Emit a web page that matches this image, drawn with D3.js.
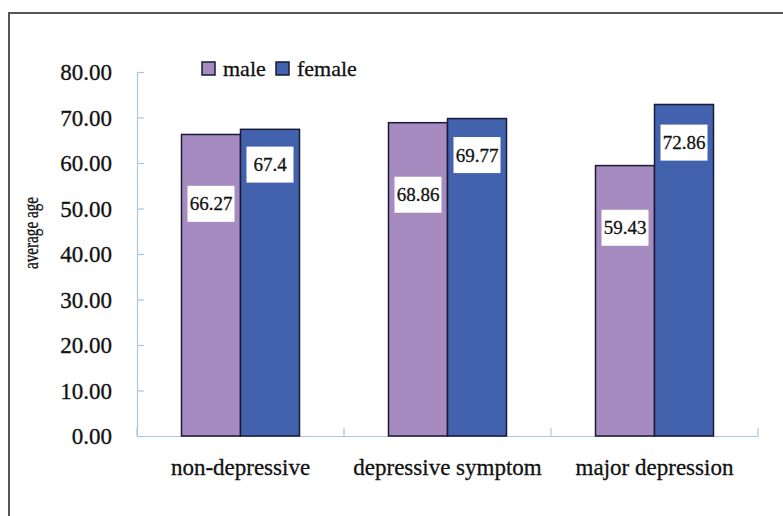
<!DOCTYPE html>
<html>
<head>
<meta charset="utf-8">
<script src="https://cdn.jsdelivr.net/npm/d3@7"></script>
<style>
  html, body { margin: 0; padding: 0; background: #fff; }
  svg { display: block; }
  text { stroke: #111; stroke-width: 0.3px; }
</style>
</head>
<body>
<svg id="chart" width="783" height="516"></svg>
<script>
const categories = ["non-depressive", "depressive symptom", "major depression"];
const seriesNames = ["male", "female"];
const maleValues = [66.27, 68.86, 59.43];
const femaleValues = [67.4, 69.77, 72.86];
const valueLabels = [["66.27", "68.86", "59.43"], ["67.4", "69.77", "72.86"]];
const yTicks = [0, 10, 20, 30, 40, 50, 60, 70, 80];
const yTitle = "average age";

const colors = ["#a68bc0", "#4262ad"];
const series = [maleValues, femaleValues];
const labelFrac = [0.77, 0.885];

const svg = d3.select("#chart");
const font = "'Liberation Serif', 'Times New Roman', serif";

// outer frame
svg.append("rect")
  .attr("x", 9).attr("y", 13).attr("width", 800).attr("height", 540)
  .attr("fill", "none").attr("stroke", "#555").attr("stroke-width", 2);

const plot = { left: 137, right: 758, top: 72, bottom: 436 };

const x0 = d3.scaleBand().domain(categories).range([plot.left, plot.right]).paddingInner(0).paddingOuter(0);
const innerPad = 44.5 / 207;
const x1 = d3.scaleBand().domain(seriesNames)
  .range([x0.bandwidth() * innerPad, x0.bandwidth() * (1 - innerPad)]).padding(0);
const y = d3.scaleLinear().domain([0, 80]).range([plot.bottom, plot.top]);

const axisColor = "#a9c6e4";

// y axis
const yAxis = svg.append("g").attr("transform", `translate(${plot.left},0)`)
  .call(d3.axisRight(y).tickValues(yTicks).tickSize(7).tickFormat(""));
yAxis.select(".domain").attr("stroke", axisColor).attr("stroke-width", 1.2);
yAxis.selectAll(".tick line").attr("stroke", axisColor).attr("stroke-width", 1.2);

svg.append("g").selectAll("text").data(yTicks).join("text")
  .attr("x", 112).attr("y", d => y(d)).attr("dy", "0.35em")
  .attr("text-anchor", "end")
  .attr("font-family", font).attr("font-size", 23).attr("fill", "#111")
  .text(d => d3.format(".2f")(d));

// x axis
const xAxis = svg.append("g").attr("transform", `translate(0,${plot.bottom})`)
  .call(d3.axisBottom(x0).tickSize(0).tickFormat(""));
xAxis.select(".domain").attr("stroke", axisColor).attr("stroke-width", 1.2);
xAxis.selectAll(".tick").remove();
const bounds = categories.map(c => x0(c) + x0.bandwidth()).concat([plot.left]);
svg.append("g").selectAll("line").data(bounds).join("line")
  .attr("x1", d => d).attr("x2", d => d)
  .attr("y1", plot.bottom).attr("y2", plot.bottom - 8)
  .attr("stroke", axisColor).attr("stroke-width", 1.2);

svg.append("g").selectAll("text").data(categories).join("text")
  .attr("x", d => x0(d) + x0.bandwidth() / 2).attr("y", 467).attr("dy", "0.35em")
  .attr("text-anchor", "middle")
  .attr("font-family", font).attr("font-size", 23).attr("fill", "#111")
  .text(d => d);

// y title
svg.append("text")
  .attr("transform", "translate(38,233) rotate(-90)")
  .attr("text-anchor", "middle")
  .attr("font-family", font).attr("font-size", 20).attr("fill", "#111")
  .attr("textLength", 72).attr("lengthAdjust", "spacingAndGlyphs")
  .text(yTitle);

// bars
const groups = svg.append("g").selectAll("g").data(categories).join("g")
  .attr("transform", d => `translate(${x0(d)},0)`);

groups.each(function(cat, ci) {
  const g = d3.select(this);
  seriesNames.forEach((s, si) => {
    const v = series[si][ci];
    g.append("rect")
      .attr("x", x1(s)).attr("y", y(v))
      .attr("width", x1.bandwidth()).attr("height", y(0) - y(v))
      .attr("fill", colors[si]).attr("stroke", "#1a1a36").attr("stroke-width", 1.5);
  });
  seriesNames.forEach((s, si) => {
    const v = series[si][ci];
    const cx = x1(s) + x1.bandwidth() / 2;
    const cy = y(v * labelFrac[si]);
    g.append("rect")
      .attr("x", cx - 23.5).attr("y", cy - 18).attr("width", 47).attr("height", 36)
      .attr("fill", "#fff");
    g.append("text")
      .attr("x", cx).attr("y", cy).attr("dy", "0.35em")
      .attr("text-anchor", "middle")
      .attr("font-family", font).attr("font-size", 19).attr("fill", "#111")
      .text(valueLabels[si][ci]);
  });
});

// legend
const legendX = [202, 276];
const leg = svg.append("g").selectAll("g").data(seriesNames).join("g")
  .attr("transform", (d, i) => `translate(${legendX[i]},62)`);
leg.append("rect").attr("width", 13).attr("height", 13)
  .attr("fill", (d, i) => colors[i]).attr("stroke", "#1a1a36").attr("stroke-width", 1.5);
leg.append("text").attr("x", 21).attr("y", 6.5).attr("dy", "0.35em")
  .attr("font-family", font).attr("font-size", 22).attr("fill", "#111")
  .text(d => d);
</script>
</body>
</html>
